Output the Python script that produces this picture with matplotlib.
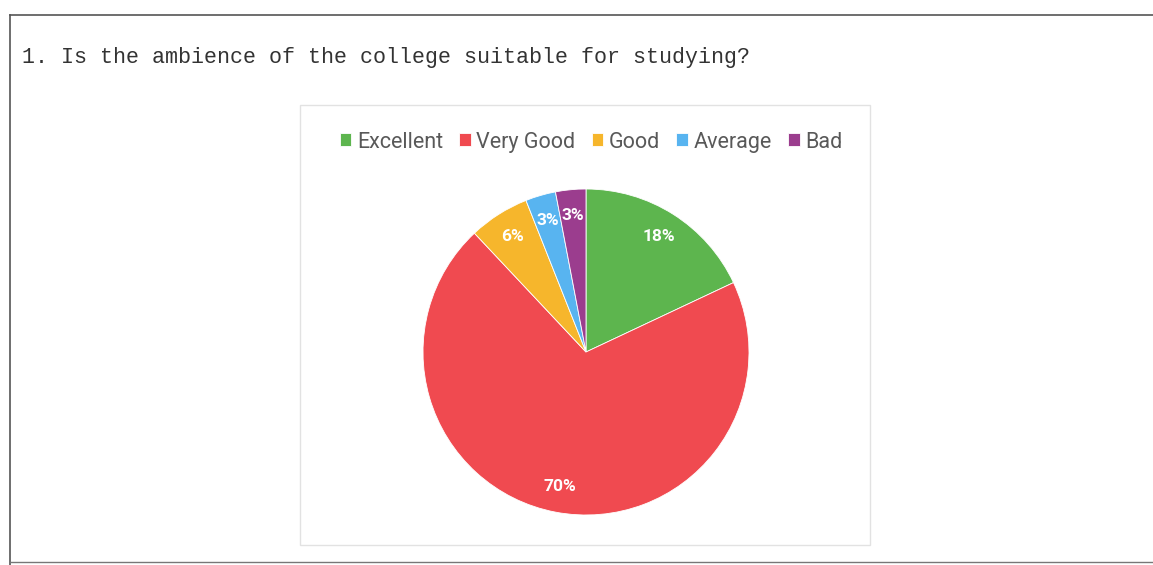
import matplotlib
matplotlib.use("Agg")
import matplotlib.pyplot as plt
from matplotlib.patches import Rectangle
from matplotlib.lines import Line2D

# data
labels = ['Excellent', 'Very Good', 'Good', 'Average', 'Bad']
values = [18, 70, 6, 3, 3]
colors = ['#5db54e', '#f04a50', '#f6b62c', '#58b4f0', '#9b3d8e']
title = '1. Is the ambience of the college suitable for studying?'

W, H = 1153, 565
fig = plt.figure(figsize=(W / 100, H / 100), dpi=100)
fig.patch.set_facecolor('white')

def fx(px):
    return px / W

def fy(py):
    return 1 - py / H

# page frame lines (scan)
fig.add_artist(Line2D([fx(10), 1], [fy(15), fy(15)], color='#555555', lw=1.2))
fig.add_artist(Line2D([fx(10), fx(10)], [fy(15), 0], color='#555555', lw=1.2))
fig.add_artist(Line2D([fx(10), 1], [fy(562), fy(562)], color='#777777', lw=1.0))

# chart box
fig.add_artist(Rectangle((fx(300), fy(545)), fx(870) - fx(300), fy(105) - fy(545),
                         fill=False, edgecolor='#e2e2e2', lw=1.0))

fig.text(fx(22), fy(57), title, family='Liberation Mono', fontsize=15.6,
         color='#333333', va='center', ha='left')

# pie
cx, cy, r = 586, 352, 163
ax = fig.add_axes([fx(cx - r), fy(cy + r), 2 * r / W, 2 * r / H])
wedges, texts, autotexts = ax.pie(values, colors=colors, startangle=90, counterclock=False,
                                  autopct='%1.0f%%', pctdistance=0.84,
                                  wedgeprops=dict(linewidth=0.6, edgecolor='white'),
                                  textprops=dict(color='white', fontsize=12.5,
                                                 fontweight='bold', family='Roboto'))
ax.set_xlim(-1, 1)
ax.set_ylim(-1, 1)
ax.set_aspect('auto')
ax.axis('off')

fig.legend(wedges, labels, loc='center', bbox_to_anchor=(fx(591), fy(142)), ncol=5,
           frameon=False, handlelength=0.55, handleheight=0.55, handletextpad=0.25,
           columnspacing=0.75, borderaxespad=0,
           prop=dict(family='Roboto', size=15.5), labelcolor='#595959')

fig.savefig('out.png', dpi=100)
